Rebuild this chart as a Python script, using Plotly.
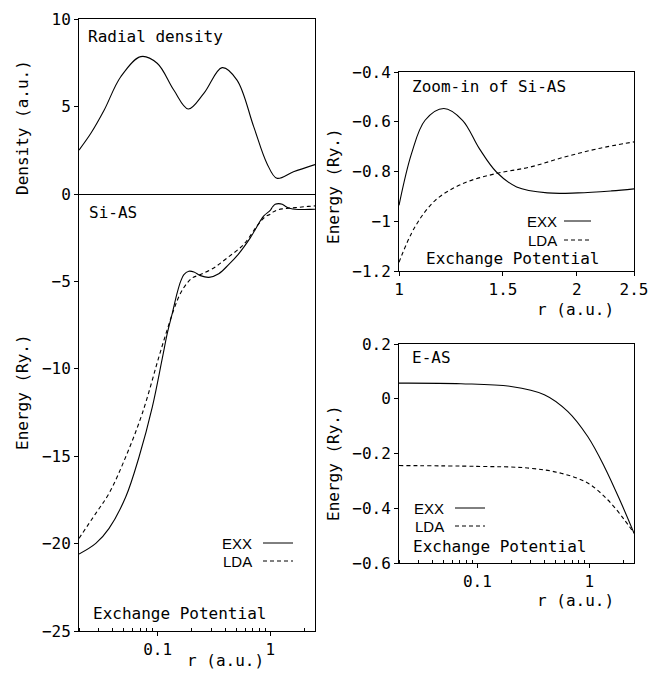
import math
import plotly.graph_objects as go

# ---------------- data ----------------
dens_r = [0.02, 0.0255, 0.0335, 0.047, 0.0708, 0.099, 0.139, 0.187, 0.257, 0.374, 0.507, 0.713, 0.935, 1.146, 1.61, 2.5]
dens_v = [2.51, 3.47, 4.8, 6.7, 7.85, 7.47, 5.94, 4.86, 5.75, 7.22, 6.51, 3.85, 1.75, 0.9, 1.27, 1.68]

siexx_r = [0.02, 0.0282, 0.037, 0.0521, 0.0684, 0.0898, 0.110, 0.122, 0.135, 0.149, 0.160, 0.171, 0.189, 0.210,
           0.240, 0.285, 0.349, 0.427, 0.52, 0.665, 0.873, 1.0, 1.05, 1.107, 1.19, 1.28, 1.37, 1.46, 1.58, 1.78,
           2.01, 2.29, 2.5]
siexx_e = [-20.6, -19.99, -19.13, -17.32, -15.03, -12.16, -9.39, -7.95, -6.81, -5.66, -5.0, -4.61, -4.42, -4.46,
           -4.67, -4.77, -4.56, -4.04, -3.45, -2.51, -1.27, -0.94, -0.73, -0.59, -0.55, -0.59, -0.71, -0.80, -0.86,
           -0.886, -0.886, -0.878, -0.87]

silda_r = [0.02, 0.0282, 0.037, 0.0521, 0.0731, 0.1027, 0.114, 0.139, 0.160, 0.183, 0.203, 0.240, 0.315, 0.414,
           0.58, 0.762, 0.903, 1.0, 1.064, 1.152, 1.281, 1.462, 1.668, 1.905, 2.175, 2.5]
silda_e = [-19.70, -18.27, -17.12, -15.03, -12.54, -9.30, -8.34, -6.62, -5.66, -5.09, -4.80, -4.61, -4.23, -3.66,
           -2.89, -1.84, -1.3, -1.157, -1.023, -0.916, -0.849, -0.808, -0.782, -0.742, -0.708, -0.681]

zexx_r = [1.0, 1.05, 1.107, 1.191, 1.281, 1.368, 1.462, 1.582, 1.783, 2.01, 2.29, 2.5]
zexx_e = [-0.936, -0.728, -0.594, -0.547, -0.594, -0.708, -0.802, -0.862, -0.886, -0.886, -0.878, -0.870]
zlda_r = [1.0, 1.064, 1.152, 1.281, 1.462, 1.668, 1.905, 2.175, 2.5]
zlda_e = [-1.165, -1.023, -0.916, -0.849, -0.808, -0.782, -0.742, -0.708, -0.681]

eexx_r = [0.02, 0.0714, 0.2, 0.396, 0.64, 0.966, 1.36, 1.92, 2.5]
eexx_e = [0.057, 0.055, 0.045, 0.015, -0.046, -0.138, -0.248, -0.381, -0.491]
elda_r = [0.02, 0.1, 0.281, 0.558, 0.966, 1.456, 2.05, 2.5]
elda_e = [-0.244, -0.247, -0.253, -0.272, -0.308, -0.369, -0.442, -0.491]

log_ticks = [0.1, 1]
log_ticktext = ["0.1", "1"]
zoom_ticks = [1, 1.5, 2, 2.5]
zoom_ticktext = ["1", "1.5", "2", "2.5"]

# ---------------- styling ----------------
W, H = 649, 673
ML, MR, MT, MB = 79, 15, 19, 42
PW, PH = W - ML - MR, H - MT - MB

def px(x):
    return (x - ML) / PW

def py(y):
    return (H - MB - y) / PH

MONO = "DejaVu Sans Mono"
SANS = "Liberation Sans"
BLACK = "black"
LOGR = [math.log10(0.02), math.log10(2.5)]
minor_vals = [0.02, 0.03, 0.04, 0.05, 0.06, 0.07, 0.08, 0.09, 0.2, 0.3, 0.4, 0.5, 0.6, 0.7, 0.8, 0.9, 2]

solid = dict(color=BLACK, width=1.1, shape="spline", smoothing=1.0)
dashed = dict(color=BLACK, width=1.1, dash="4px,3px", shape="spline", smoothing=1.0)

fig = go.Figure()
fig.add_trace(go.Scatter(x=dens_r, y=dens_v, mode="lines", line=solid, xaxis="x", yaxis="y"))
fig.add_trace(go.Scatter(x=siexx_r, y=siexx_e, mode="lines", line=solid, xaxis="x2", yaxis="y2"))
fig.add_trace(go.Scatter(x=silda_r, y=silda_e, mode="lines", line=dashed, xaxis="x2", yaxis="y2"))
fig.add_trace(go.Scatter(x=zexx_r, y=zexx_e, mode="lines", line=solid, xaxis="x3", yaxis="y3"))
fig.add_trace(go.Scatter(x=zlda_r, y=zlda_e, mode="lines", line=dashed, xaxis="x3", yaxis="y3"))
fig.add_trace(go.Scatter(x=eexx_r, y=eexx_e, mode="lines", line=solid, xaxis="x4", yaxis="y4"))
fig.add_trace(go.Scatter(x=elda_r, y=elda_e, mode="lines", line=dashed, xaxis="x4", yaxis="y4"))

tickfont = dict(family=MONO, size=16, color=BLACK)
common = dict(showline=True, linecolor=BLACK, linewidth=1, mirror=True, showgrid=False, zeroline=False,
              tickfont=tickfont, tickcolor=BLACK, ticks="outside", ticklen=4, automargin=False)

dL = [0, px(315)]
dR = [px(399), px(634)]

fig.update_layout(
    width=W, height=H, autosize=False,
    margin=dict(l=ML, r=MR, t=MT, b=MB, autoexpand=False),
    paper_bgcolor="white", plot_bgcolor="white", showlegend=False,
    xaxis=dict(common, type="log", range=LOGR, domain=dL, anchor="y", tickvals=log_ticks,
               showticklabels=False, ticks=""),
    yaxis=dict(common, range=[0, 10], domain=[py(194), 1], anchor="x", tickvals=[0, 5, 10]),
    xaxis2=dict(common, type="log", range=LOGR, domain=dL, anchor="y2", tickvals=log_ticks, mirror=False,
                ticktext=log_ticktext, minor=dict(tickvals=minor_vals, ticks="inside", ticklen=3, tickcolor=BLACK)),
    yaxis2=dict(common, range=[-25, 0], domain=[0, py(194)], anchor="x2", tickvals=[-25, -20, -15, -10, -5]),
    xaxis3=dict(common, type="log", range=[0, math.log10(2.5)], domain=dR, anchor="y3",
                tickvals=zoom_ticks, ticktext=zoom_ticktext),
    yaxis3=dict(common, range=[-1.2, -0.4], domain=[py(271), py(72)], anchor="x3",
                tickvals=[-1.2, -1, -0.8, -0.6, -0.4], ticktext=["−1.2", "−1", "−0.8", "−0.6", "−0.4"]),
    xaxis4=dict(common, type="log", range=LOGR, domain=dR, anchor="y4", tickvals=log_ticks,
                ticktext=log_ticktext, minor=dict(tickvals=minor_vals, ticks="inside", ticklen=3, tickcolor=BLACK)),
    yaxis4=dict(common, range=[-0.6, 0.2], domain=[py(563), py(344)], anchor="x4",
                tickvals=[-0.6, -0.4, -0.2, 0, 0.2], ticktext=["−0.6", "−0.4", "−0.2", "0", "0.2"]),
)

textfont = dict(family=MONO, size=16, color=BLACK)
annots = []

def txt(text, x, y, xanchor="left", angle=0, font=textfont):
    annots.append(dict(text=text, x=px(x), y=py(y), xref="paper", yref="paper", xanchor=xanchor,
                       yanchor="middle", showarrow=False, textangle=angle, font=font))

# axis titles
txt("Density (a.u.)", 22, 128, "center", -90)
txt("Energy (Ry.)", 22, 392, "center", -90)
txt("Energy (Ry.)", 333, 186, "center", -90)
txt("Energy (Ry.)", 333, 463, "center", -90)
txt("r (a.u.)", 225, 660, "center")
txt("r (a.u.)", 575, 309, "center")
txt("r (a.u.)", 575, 600, "center")
# panel titles
txt("Radial density", 86, 36)
txt("Si-AS", 87, 212)
txt("Zoom-in of Si-AS", 410, 86)
txt("E-AS", 410, 357)
# legends
sans = dict(family=SANS, size=15, color=BLACK)
shapes = []

def legend(x_text_right, y_exx, y_lda, x0, x1):
    txt("EXX", x_text_right, y_exx, "right", font=sans)
    txt("LDA", x_text_right, y_lda, "right", font=sans)
    shapes.append(dict(type="line", xref="paper", yref="paper", x0=px(x0), x1=px(x1), y0=py(y_exx), y1=py(y_exx),
                       line=dict(color=BLACK, width=1)))
    shapes.append(dict(type="line", xref="paper", yref="paper", x0=px(x0), x1=px(x1), y0=py(y_lda), y1=py(y_lda),
                       line=dict(color=BLACK, width=1, dash="4px,3px")))

legend(254, 543, 561, 263, 293)
txt("Exchange Potential", 91, 613)
legend(559, 221, 240, 564, 591)
txt("Exchange Potential", 424, 258)
legend(446, 508, 526, 455, 485)
txt("Exchange Potential", 411, 546)

fig.update_layout(annotations=annots, shapes=shapes)
fig.write_html("out.html", config={"displayModeBar": False},
               post_script="document.body.style.margin='0';document.body.style.padding='0';")
